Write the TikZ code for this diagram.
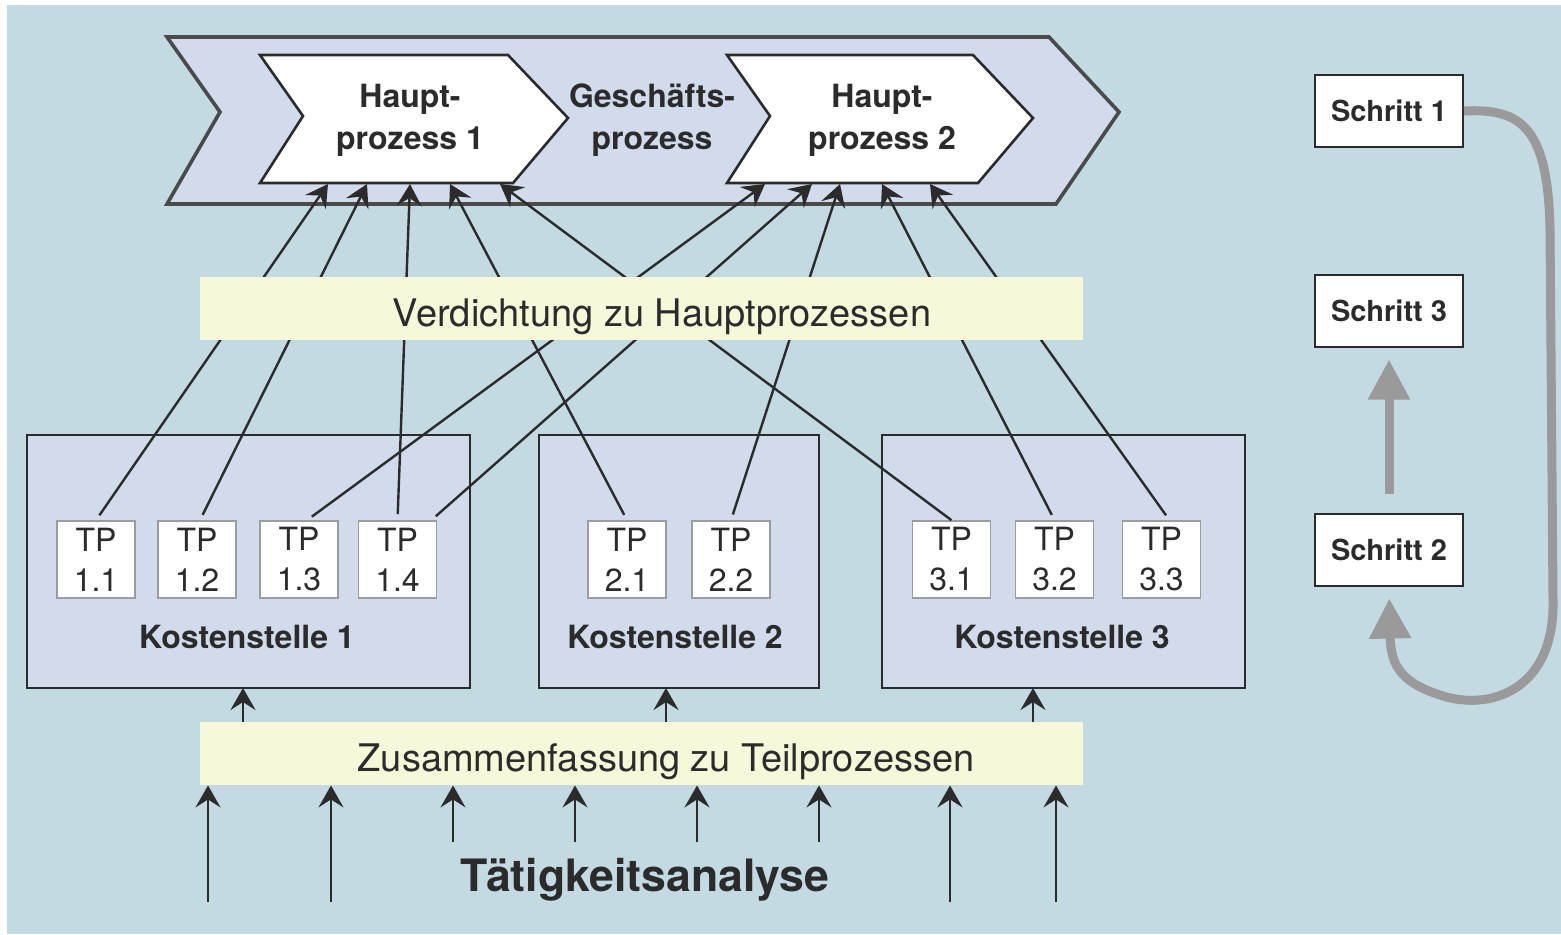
\documentclass[tikz,border=0pt]{standalone}
\usepackage{fontspec}
\setmainfont{TeX Gyre Heros}
\usetikzlibrary{arrows.meta}
\definecolor{bgblue}{HTML}{C3DAE3}
\definecolor{lav}{HTML}{D2DBEB}
\definecolor{bandy}{HTML}{F7F7DA}
\definecolor{grayc}{HTML}{9A9A9A}
\definecolor{linec}{HTML}{2B2B2B}
\definecolor{chevb}{HTML}{4A4A4A}
\definecolor{tpb}{HTML}{9C9C9C}
\tikzset{
  conn/.style={draw=linec, line width=1.2pt, -{Stealth[length=11pt,width=12.5pt,inset=4pt]}},
  bigchev/.style={fill=lav, draw=chevb, line width=1.8pt, line join=miter},
  hpchev/.style={fill=white, draw=linec, line width=1.3pt, line join=miter},
  hptext/.style={text=linec, align=center, font=\fontsize{16}{21}\selectfont\bfseries},
  ksbox/.style={fill=lav, draw=linec, line width=1pt, minimum height=126.5pt, inner sep=0pt},
  kstext/.style={text=linec, anchor=base, font=\fontsize{16}{19}\selectfont\bfseries},
  tpbox/.style={fill=white, draw=tpb, line width=0.8pt, minimum width=39pt, minimum height=38.5pt, inner sep=0pt, align=center, text=linec, font=\fontsize{16}{20}\selectfont},
  band/.style={fill=bandy, draw=none, minimum width=441.5pt, minimum height=31.5pt, inner sep=0pt},
  bandtext/.style={text=linec, anchor=base, font=\fontsize{19}{23}\selectfont},
  schrittbox/.style={fill=white, draw=linec, line width=1pt, minimum width=74pt, minimum height=36pt, inner sep=0pt, text=linec, font=\fontsize{14.5}{16}\selectfont\bfseries},
  grayarrow/.style={draw=grayc, line width=4.5pt, -{Triangle[length=20pt,width=20pt]}}
}
\begin{document}
\begin{tikzpicture}[x=0.5pt,y=-0.5pt]
\useasboundingbox (0,0) rectangle (1561,934);
\fill[white] (0,0) rectangle (1561,934);
\fill[bgblue] (7,5) rectangle (1561,934);

% Geschaeftsprozess chevron
\draw[bigchev] (167,37) -- (1049,37) -- (1119,112) -- (1056,204) -- (167,204) -- (220,112) -- cycle;
\draw[hpchev] (260,55) -- (508,55) -- (568,118) -- (513,183) -- (260,183) -- (303,116) -- cycle;
\draw[hpchev] (727,55) -- (973,55) -- (1033,118) -- (978,183) -- (727,183) -- (770,116) -- cycle;
\node[hptext] (hp1) at (410,120) {Haupt-\\prozess 1};
\node[hptext] (gp) at (652,120) {Geschäfts-\\prozess};
\node[hptext] (hp2) at (882,120) {Haupt-\\prozess 2};

% arrow targets on the Hauptprozess chevrons
\coordinate (h1a) at (328,184);
\coordinate (h1b) at (367,184);
\coordinate (h1c) at (410,184);
\coordinate (h1d) at (450,184);
\coordinate (h1e) at (500,184);
\coordinate (h2a) at (765,184);
\coordinate (h2b) at (812,184);
\coordinate (h2c) at (840,184);
\coordinate (h2d) at (882,184);
\coordinate (h2e) at (930,184);

% Kostenstellen
\node[ksbox, minimum width=221.5pt] (ks1) at (248.5,561.5) {};
\node[ksbox, minimum width=140pt] (ks2) at (679,561.5) {};
\node[ksbox, minimum width=181.5pt] (ks3) at (1063.5,561.5) {};
\node[kstext] (ks1t) at (247,648) {Kostenstelle 1};
\node[kstext] (ks2t) at (675,648) {Kostenstelle 2};
\node[kstext] (ks3t) at (1062,648) {Kostenstelle 3};

% Teilprozesse
\node[tpbox] (tp11) at (96,559.5) {TP\\1.1};
\node[tpbox] (tp12) at (197,559.5) {TP\\1.2};
\node[tpbox] (tp13) at (299,559.5) {TP\\1.3};
\node[tpbox] (tp14) at (397.5,559.5) {TP\\1.4};
\node[tpbox] (tp21) at (627,559.5) {TP\\2.1};
\node[tpbox] (tp22) at (731,559.5) {TP\\2.2};
\node[tpbox] (tp31) at (951.5,559.5) {TP\\3.1};
\node[tpbox] (tp32) at (1054.5,559.5) {TP\\3.2};
\node[tpbox] (tp33) at (1161.5,559.5) {TP\\3.3};

% connectors TP -> Hauptprozess
\draw[conn, shorten <=3pt] (tp11.north) -- (h1a);
\draw[conn, shorten <=3pt] ([xshift=1.5pt]tp12.north) -- (h1b);
\draw[conn, shorten <=3pt] (tp14.north) -- (h1c);
\draw[conn, shorten <=3pt] (tp21.north) -- (h1d);
\draw[conn] (tp31.north) -- (h1e);
\draw[conn, shorten <=3pt] ([xshift=4pt]tp13.north) -- (h2a);
\draw[conn, shorten <=3pt] ([xshift=-3pt]tp14.north east) -- (h2b);
\draw[conn, shorten <=3pt] (tp22.north) -- (h2c);
\draw[conn, shorten <=3pt] (tp32.north) -- (h2d);
\draw[conn, shorten <=3pt] ([xshift=4pt]tp33.north) -- (h2e);

% bands
\node[band] (verd) at (641.5,308.5) {};
\node[bandtext] (verdt) at (662,326) {Verdichtung zu Hauptprozessen};
\node[band] (zus) at (641.5,753.5) {};
\node[bandtext] (zust) at (666,771) {Zusammenfassung zu Teilprozessen};

% band -> Kostenstellen
\coordinate (k1) at (243,688);
\coordinate (k2) at (666,688);
\coordinate (k3) at (1033,688);
\draw[conn] (k1 |- zus.north) -- (k1);
\draw[conn] (k2 |- zus.north) -- (k2);
\draw[conn] (k3 |- zus.north) -- (k3);

% Taetigkeitsanalyse arrows
\coordinate (b1) at (208,902);
\coordinate (b2) at (331,902);
\coordinate (b3) at (453,842);
\coordinate (b4) at (575,842);
\coordinate (b5) at (697,842);
\coordinate (b6) at (819,842);
\coordinate (b7) at (950,902);
\coordinate (b8) at (1056,902);
\foreach \b in {b1,b2,b3,b4,b5,b6,b7,b8}{
  \draw[conn] (\b) -- (\b |- zus.south);
}
\node[text=linec, anchor=base, font=\fontsize{22.3}{26}\selectfont\bfseries] (ta) at (645,891) {Tätigkeitsanalyse};

% Schritte
\node[schrittbox] (s1) at (1389,111) {Schritt 1};
\node[schrittbox] (s3) at (1389,310.5) {Schritt 3};
\node[schrittbox] (s2) at (1389,549.5) {Schritt 2};
\draw[grayarrow, shorten <=9.5pt, shorten >=6pt] (s2.north) -- (s3.south);
\draw[grayarrow, shorten >=6pt] (s1.east) .. controls (1522,108) and (1548,128) .. (1550,230)
  -- (1553,600) .. controls (1555,690) and (1490,712) .. (1440,695)
  .. controls (1400,682) and (1390,665) .. (1390,632) -- (s2.south);
\end{tikzpicture}
\end{document}
